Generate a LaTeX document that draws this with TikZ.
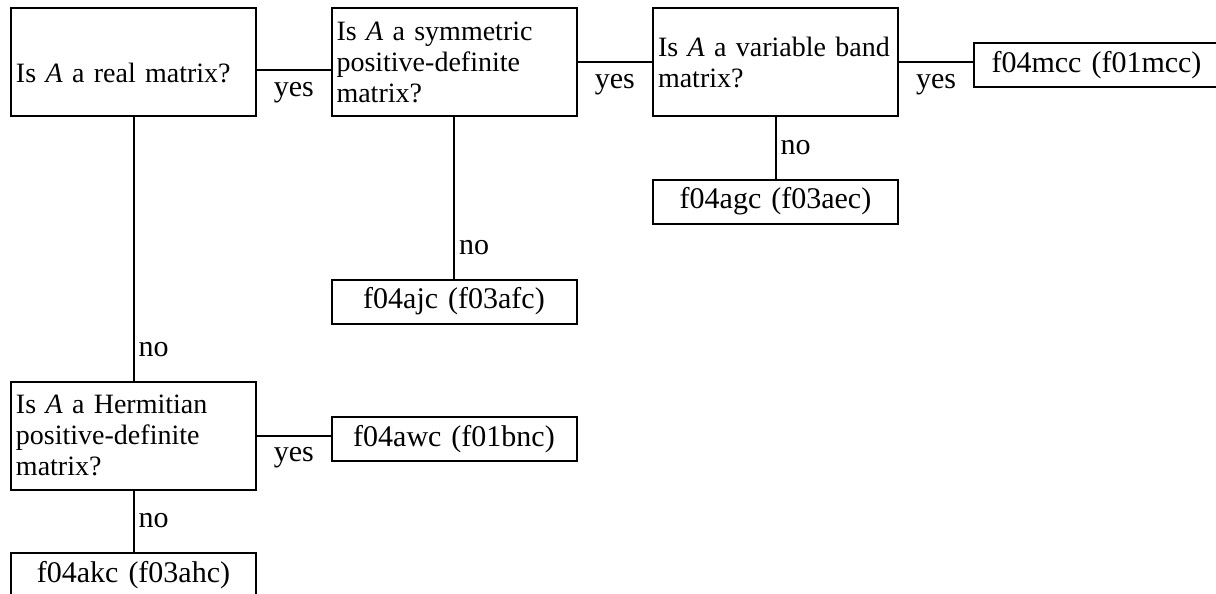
\documentclass[tikz,border=0pt]{standalone}
\usepackage{fontspec}
\setmainfont{Liberation Serif}
\begin{document}
\begin{tikzpicture}[
    x=0.5pt, y=-0.5pt,
    every node/.style={font=\fontsize{15}{15.5}\selectfont},
    linestyle/.style={draw, line width=1pt},
    question/.style={rectangle, draw, line width=1pt, text width=117.5pt,
        inner xsep=2.5pt, minimum height=54pt, align=left,
        font=\fontsize{14}{15.5}\selectfont},
    routine/.style={rectangle, draw, line width=1pt, text width=114.5pt,
        inner xsep=4pt, inner ysep=3pt, minimum height=22pt, align=center},
    yeslabel/.style={below=3.5pt, inner sep=2pt},
    nolabel/.style={right, inner sep=2pt, pos=1, yshift=15.5pt}
]
\useasboundingbox (0,0) rectangle (1216,594);

\node (Question01) [question, text height=20pt, text depth=0pt] at (133.5,62)
  {\mbox{Is \textit{A} a real matrix?}};
\node (Question02) [question] at (454,62)
  {\mbox{Is \textit{A} a symmetric}\\\mbox{positive-definite}\\\mbox{matrix?}};
\node (Question03) [question] at (775.5,62)
  {\mbox{Is \textit{A} a variable band}\\\mbox{matrix?}};
\node (Question04) [question] at (133.5,435.5)
  {\mbox{Is \textit{A} a Hermitian}\\\mbox{positive-definite}\\\mbox{matrix?}};

\node (Routine01) [routine] at (1096.5,65) {f04mcc (f01mcc)};
\node (Routine02) [routine] at (775.5,201.5) {f04agc (f03aec)};
\node (Routine03) [routine] at (454,301.5) {f04ajc (f03afc)};
\node (Routine04) [routine] at (454,439) {f04awc (f01bnc)};
\node (Routine05) [routine] at (133.5,575) {f04akc (f03ahc)};

\draw [linestyle] ([yshift=-4pt]Question01.east) -- node[yeslabel] {yes}
  ([yshift=-4pt]Question02.west);
\draw [linestyle] (Question02.east) -- node[yeslabel] {yes} (Question03.west);
\draw [linestyle] (Question03.east) -- node[yeslabel] {yes}
  (Question03.east -| Routine01.west);
\draw [linestyle] (Question04.east) -- node[yeslabel] {yes}
  (Question04.east -| Routine04.west);

\draw [linestyle] (Question01.south) -- node[nolabel] {no} (Question04.north);
\draw [linestyle] (Question02.south) -- node[nolabel] {no} (Routine03.north);
\draw [linestyle] (Question03.south) -- node[nolabel] {no} (Routine02.north);
\draw [linestyle] (Question04.south) -- node[nolabel] {no} (Routine05.north);
\end{tikzpicture}
\end{document}
